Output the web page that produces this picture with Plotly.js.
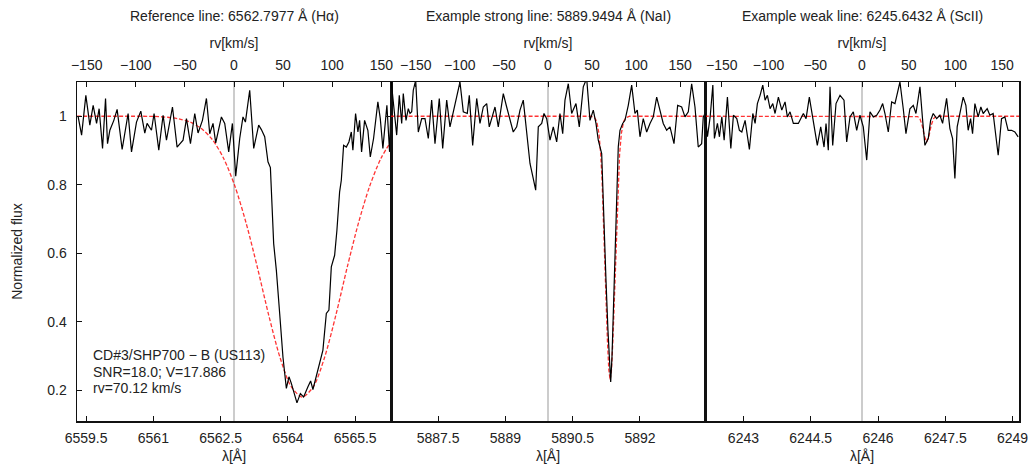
<!DOCTYPE html>
<html>
<head>
<meta charset="utf-8">
<script src="https://cdn.plot.ly/plotly-3.0.1.min.js"></script>
<style>html,body{margin:0;padding:0;background:#fff;}#chart{width:1033px;height:471px;}</style>
</head>
<body>
<div id="chart"></div>
<script>
// ---- reference lines ----
const LAM_HA = 6562.7977, LAM_NA = 5889.9494, LAM_SC = 6245.6432;
const C_KMS = 299792.458;
const HALF_WIDTH = 3.5; // Angstrom shown on each side

const panelTitles = [
  "Reference line: 6562.7977 Å (Hα)",
  "Example strong line: 5889.9494 Å (NaI)",
  "Example weak line: 6245.6432 Å (ScII)"
];
const infoLines = ["CD#3/SHP700 − B (US113)", "SNR=18.0; V=17.886", "rv=70.12 km/s"];

// ---- H alpha: observed ----
const ha_wave = [6559.324,6559.40,6559.495,6559.584,6559.658,6559.734,6559.791,6559.867,6559.934,6559.978,
6560.03,6560.119,6560.192,6560.304,6560.437,6560.513,6560.624,6560.72,6560.809,6560.86,
6560.958,6561.016,6561.121,6561.217,6561.292,6561.426,6561.529,6561.662,6561.738,6561.827,
6561.923,6561.996,6562.094,6562.183,6562.257,6562.33,6562.39,6562.517,6562.591,6562.68,
6562.762,6562.836,6562.925,6562.998,6563.052,6563.148,6563.237,6563.348,6563.408,6563.482,
6563.555,6563.609,6563.682,6563.742,6563.816,6563.889,6563.965,6564.023,6564.076,6564.15,
6564.201,6564.277,6564.35,6564.446,6564.506,6564.557,6564.633,6564.707,6564.78,6564.856,
6564.914,6564.967,6565.041,6565.092,6565.152,6565.19,6565.241,6565.301,6565.359,6565.413,
6565.448,6565.508,6565.56,6565.598,6565.642,6565.709,6565.782,6565.836,6565.909,6566.005,
6566.059,6566.117,6566.206,6566.266,6566.32];
const ha_flux = [0.998,0.945,1.061,0.974,1.032,0.979,1.022,0.906,1.052,0.920,
0.959,0.988,1.020,0.903,1.008,0.896,0.983,1.015,0.951,0.979,
0.959,1.008,0.901,1.003,0.930,1.027,0.910,0.930,0.993,0.920,
1.008,0.951,0.988,1.052,0.949,0.979,0.922,0.998,0.979,0.896,
0.979,0.825,0.935,0.998,0.983,1.076,0.906,0.974,0.961,0.940,
0.867,0.850,0.628,0.550,0.424,0.297,0.205,0.239,0.220,0.185,
0.163,0.190,0.180,0.210,0.227,0.202,0.239,0.278,0.317,0.424,
0.434,0.560,0.594,0.667,0.779,0.813,0.915,0.910,0.925,0.954,
0.901,1.008,0.954,0.988,0.896,0.988,0.959,0.881,0.935,1.042,
0.993,0.906,1.032,0.896,1.13];
// ---- H alpha: model ----
const ha_model_wave = [6559.30,6560.0,6560.5,6561.0,6561.32,6561.57,6561.82,6562.07,6562.32,6562.57,6562.82,6563.07,6563.32,6563.57,6563.82,6564.07,6564.32,6564.57,6564.82,6565.07,6565.32,6565.57,6565.82,6566.07,6566.32];
const ha_model_flux = [1.0,1.0,1.0,0.9995,0.997,0.992,0.983,0.964,0.931,0.876,0.795,0.687,0.558,0.420,0.297,0.211,0.180,0.211,0.297,0.420,0.558,0.687,0.795,0.876,0.931];

// ---- NaI: observed ----
const na_wave = [5886.44,5886.576,5886.634,5886.688,5886.723,5886.784,5886.835,5886.873,5886.911,5886.946,
5887.0,5887.058,5887.134,5887.207,5887.281,5887.356,5887.43,5887.526,5887.602,5887.691,
5887.764,5887.876,5887.987,5888.061,5888.15,5888.195,5888.27,5888.36,5888.433,5888.507,
5888.583,5888.64,5888.716,5888.768,5888.841,5888.953,5889.028,5889.102,5889.175,5889.251,
5889.325,5889.398,5889.474,5889.548,5889.621,5889.675,5889.733,5889.809,5889.86,5889.92,
5889.994,5890.067,5890.143,5890.216,5890.277,5890.328,5890.402,5890.477,5890.573,5890.647,
5890.736,5890.812,5890.885,5890.959,5891.019,5891.07,5891.146,5891.197,5891.242,5891.286,
5891.331,5891.347,5891.376,5891.405,5891.431,5891.454,5891.487,5891.516,5891.554,5891.614,
5891.665,5891.739,5891.815,5891.888,5891.94,5892.0,5892.073,5892.149,5892.223,5892.296,
5892.372,5892.446,5892.519,5892.595,5892.669,5892.758,5892.84,5892.929,5893.003,5893.077,
5893.152,5893.226,5893.299,5893.375,5893.411,5893.46];
const na_flux = [1.12,0.945,1.061,0.979,1.066,0.988,1.022,1.008,1.013,1.076,
1.105,0.954,0.993,0.993,0.935,1.047,0.920,1.052,0.906,1.047,
0.969,1.032,1.100,1.013,1.008,1.061,0.915,1.052,0.979,1.027,
1.037,0.969,1.008,1.027,0.969,1.066,1.027,0.988,0.954,0.969,
1.018,1.047,0.949,0.862,0.818,0.784,0.969,0.979,1.008,0.993,
0.930,0.969,0.925,1.008,0.949,1.047,1.095,1.008,1.037,0.969,
1.086,1.11,0.988,1.018,0.979,0.930,0.891,0.667,0.521,0.375,
0.258,0.224,0.297,0.424,0.570,0.667,0.800,0.910,0.959,0.979,
0.988,1.032,1.091,1.008,1.018,0.940,0.993,0.954,0.979,0.998,
1.056,1.018,0.979,0.959,0.969,0.920,1.032,1.027,0.998,1.013,
1.095,1.027,0.910,0.920,0.998,1.01];
// ---- NaI: model ----
const na_model_wave = [5886.44,5890.90,5890.985,5891.035,5891.085,5891.125,5891.155,5891.185,5891.215,5891.245,5891.275,5891.305,5891.335,5891.365,5891.395,5891.425,5891.455,5891.485,5891.515,5891.545,5891.585,5891.635,5891.685,5891.77,5893.46];
const na_model_flux = [1.0,1.0,0.996,0.985,0.950,0.888,0.813,0.712,0.590,0.460,0.342,0.260,0.230,0.260,0.342,0.460,0.590,0.712,0.813,0.888,0.950,0.985,0.996,1.0,1.0];

// ---- ScII: observed ----
const sc_wave = [6242.146,6242.198,6242.258,6242.318,6242.353,6242.42,6242.465,6242.518,6242.57,6242.643,
6242.719,6242.777,6242.852,6242.91,6242.964,6243.037,6243.133,6243.209,6243.26,6243.311,
6243.371,6243.431,6243.483,6243.534,6243.594,6243.654,6243.705,6243.779,6243.855,6243.928,
6243.979,6244.039,6244.113,6244.224,6244.336,6244.396,6244.469,6244.558,6244.647,6244.723,
6244.797,6244.841,6244.892,6244.93,6244.99,6245.064,6245.153,6245.242,6245.302,6245.376,
6245.449,6245.525,6245.598,6245.672,6245.748,6245.821,6245.895,6245.97,6246.044,6246.104,
6246.155,6246.229,6246.304,6246.378,6246.489,6246.563,6246.623,6246.712,6246.786,6246.846,
6246.935,6246.995,6247.046,6247.12,6247.173,6247.231,6247.307,6247.38,6247.44,6247.529,
6247.603,6247.663,6247.714,6247.765,6247.826,6247.899,6247.959,6248.01,6248.064,6248.108,
6248.16,6248.233,6248.293,6248.345,6248.434,6248.494,6248.567,6248.679,6248.754,6248.828,
6248.901,6248.977,6249.051,6249.124];
const sc_flux = [1.008,0.940,0.998,1.091,0.935,0.979,0.940,0.998,0.930,1.056,
0.906,1.003,0.993,0.959,0.954,0.988,0.903,1.008,0.979,1.037,
1.061,1.091,1.047,1.061,1.022,1.037,1.008,1.056,1.018,1.042,
0.998,1.013,0.979,0.979,1.008,0.993,1.056,0.988,0.915,0.969,
0.910,0.979,0.901,1.086,0.915,1.037,1.061,1.047,0.925,0.998,
1.013,0.959,1.003,0.969,0.872,1.013,0.998,1.003,1.018,1.037,
1.008,0.954,1.042,1.037,1.100,1.022,0.949,1.022,1.032,1.008,
1.086,0.988,0.915,0.935,0.988,1.008,0.993,1.003,0.979,1.052,
0.964,0.935,0.818,0.969,1.013,1.056,1.032,0.959,0.993,0.949,
1.037,0.998,1.027,1.008,1.022,1.003,1.008,0.886,0.993,0.998,
0.959,0.959,0.954,0.940];
// ---- ScII: model ----
const sc_model_wave = [6242.14,6246.835,6246.885,6246.935,6246.985,6247.035,6247.085,6247.135,6247.185,6247.235,6247.285,6247.335,6249.15];
const sc_model_flux = [1.0,1.0,0.999,0.9925,0.973,0.942,0.925,0.942,0.973,0.9925,0.999,1.0,1.0];

// ---- styling ----
const FONT = {family: "Liberation Sans, Arial, Helvetica, sans-serif", size: 14, color: "#222"};
const OBS_LINE = {color: "#000", width: 1.2};
const MOD_LINE = {color: "rgba(255,0,0,0.8)", width: 1.3, dash: "4px,2px"};
const AX_LINE = "#111";

const centers = [LAM_HA, LAM_NA, LAM_SC];
const obs = [[ha_wave, ha_flux], [na_wave, na_flux], [sc_wave, sc_flux]];
const mod = [[ha_model_wave, ha_model_flux], [na_model_wave, na_model_flux], [sc_model_wave, sc_model_flux]];

const traces = [];
const layout = {
  width: 1033, height: 471,
  margin: {l: 77, r: 14, t: 82, b: 50, pad: 0},
  paper_bgcolor: "#fff", plot_bgcolor: "#fff",
  showlegend: false, font: FONT,
  shapes: [], annotations: []
};

for (let i = 0; i < 3; i++) {
  const xa = i === 0 ? "x" : "x" + (i + 1);
  const ya = i === 0 ? "y" : "y" + (i + 1);
  const xt = "x" + (i + 4);
  traces.push({x: mod[i][0], y: mod[i][1], xaxis: xa, yaxis: ya, type: "scatter", mode: "lines",
               line: Object.assign({}, MOD_LINE, i === 0 ? {shape: "spline", smoothing: 0.8} : {}), hoverinfo: "skip"});
  traces.push({x: obs[i][0], y: obs[i][1], xaxis: xa, yaxis: ya, type: "scatter", mode: "lines",
               line: OBS_LINE, hoverinfo: "skip"});
  traces.push({x: [], y: [], xaxis: xt, yaxis: ya, type: "scatter", mode: "lines", hoverinfo: "skip"});
  const dom = [i / 3, (i + 1) / 3];
  const lam0 = centers[i];
  const rvHalf = HALF_WIDTH / lam0 * C_KMS;
  const xKey = i === 0 ? "xaxis" : "xaxis" + (i + 1);
  const yKey = i === 0 ? "yaxis" : "yaxis" + (i + 1);
  layout[xKey] = {
    domain: dom, anchor: ya, range: [lam0 - HALF_WIDTH, lam0 + HALF_WIDTH],
    dtick: 1.5, tick0: 0, tickformat: ".1~f", ticks: "inside", ticklen: 5, tickwidth: 1, tickcolor: AX_LINE,
    showline: true, linecolor: AX_LINE, linewidth: 1.5, mirror: true,
    showgrid: false, zeroline: false, ticklabelstandoff: 4,
    tickfont: FONT, title: {text: "λ[Å]", font: FONT, standoff: 6}
  };
  layout["xaxis" + (i + 4)] = {
    overlaying: xa, anchor: ya, side: "top", range: [-rvHalf, rvHalf],
    dtick: 50, tick0: 0, ticks: "inside", ticklen: 5, tickwidth: 1, tickcolor: AX_LINE,
    showline: false, showgrid: false, zeroline: false, ticklabelstandoff: 8,
    tickfont: FONT, title: {text: "rv[km/s]", font: FONT, standoff: 5}
  };
  layout[yKey] = {
    domain: [0, 1], anchor: xa, range: [0.11, 1.1],
    dtick: 0.2, tick0: 0,
    ticks: i === 0 ? "inside" : "", ticklen: 5, tickwidth: 1, tickcolor: AX_LINE,
    showticklabels: i === 0,
    showline: true, linecolor: AX_LINE, linewidth: 1.5, mirror: i === 0 ? "ticks" : true,
    showgrid: false, zeroline: false, ticklabelstandoff: 6, tickfont: FONT,
    title: i === 0 ? {text: "Normalized flux", font: FONT, standoff: 21} : {text: ""}
  };
  layout.shapes.push({type: "line", xref: xa, yref: "paper", x0: lam0, x1: lam0, y0: 0, y1: 1,
                      line: {color: "#999", width: 1}, layer: "below"});
  layout.annotations.push({text: panelTitles[i], xref: "paper", yref: "paper",
                           x: (i + 0.5) / 3, y: 1.195, xanchor: "center", yanchor: "middle",
                           showarrow: false, font: FONT});
}
const infoY = [0.195, 0.1455, 0.0965];
infoLines.forEach((t, k) => {
  layout.annotations.push({text: t, xref: "paper", yref: "paper", x: 0.0145, y: infoY[k],
                           xanchor: "left", yanchor: "middle", showarrow: false, font: FONT});
});

Plotly.newPlot("chart", traces, layout, {staticPlot: true, displayModeBar: false});
</script>
</body>
</html>
